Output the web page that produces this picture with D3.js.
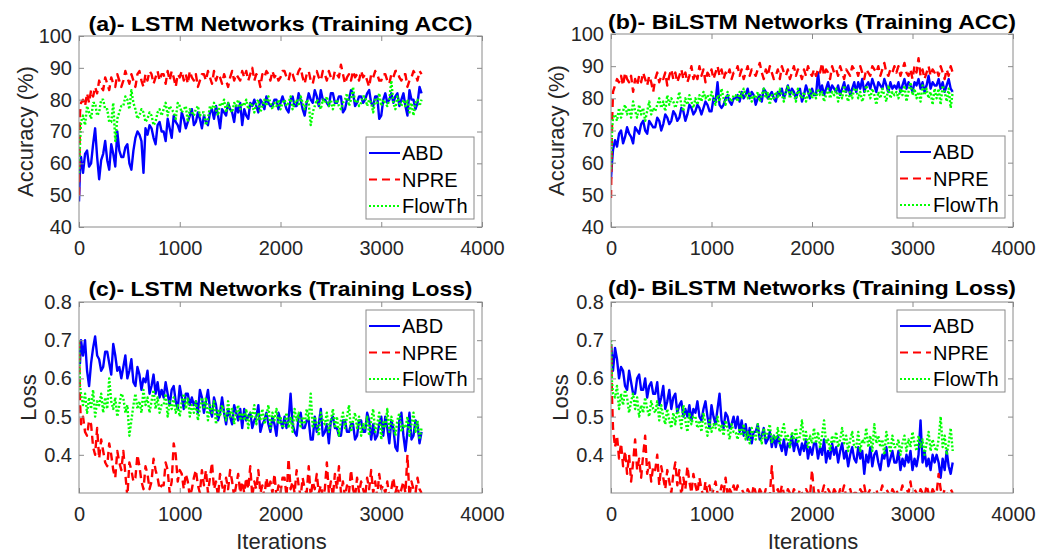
<!DOCTYPE html>
<html>
<head>
<meta charset="utf-8">
<script src="https://cdn.jsdelivr.net/npm/d3@7"></script>
<style>
  body { margin: 0; background: #fff; }
  text { font-family: "Liberation Sans", Arial, sans-serif; }
</style>
</head>
<body>
<script>
// canvas
const W = 1038, H = 554;

// iteration grid (x values)
const iters = [0, 10, 20].concat(d3.range(40, 3401, 20));

// series names
const names = ["ABD", "NPRE", "FlowTh"];

// (a) LSTM training accuracy
const accLstmAbd = [48, 58, 62,
  57, 63, 64, 59, 60, 66, 71, 62, 55, 61, 63, 67, 61, 58, 66, 63, 59, 70, 64, 62,
  62, 65, 66, 60, 58, 64, 68, 70, 69, 67, 57, 71, 69, 72, 71, 68, 66, 72, 73, 70,
  70, 67, 74, 71, 68, 75, 73, 72, 70, 76, 74, 71, 73, 75, 77, 72, 73, 76, 74, 71,
  75, 73, 72, 76, 77, 74, 78, 75, 71, 77, 76, 75, 79, 77, 76, 73, 78, 76, 79, 72,
  77, 75, 74, 79, 78, 80, 78, 76, 80, 79, 77, 81, 79, 78, 78, 80, 80, 77, 79, 81,
  79, 77, 76, 80, 81, 78, 78, 82, 80, 77, 75, 79, 82, 80, 79, 83, 81, 78, 83, 80,
  80, 79, 78, 82, 82, 79, 79, 81, 81, 76, 77, 80, 80, 83, 82, 78, 79, 81, 81, 79,
  80, 82, 83, 79, 78, 81, 81, 74, 75, 80, 82, 79, 80, 82, 79, 81, 82, 78, 80, 82,
  78, 75, 83, 80, 80, 77, 79, 84, 82];
const accLstmNpre = [50, 76, 79,
  80, 78, 82, 79, 83, 81, 84, 82, 86, 84, 83, 87, 85, 83, 87, 85, 84, 88, 86, 84,
  86, 89, 87, 85, 88, 86, 84, 88, 89, 86, 84, 88, 86, 89, 88, 85, 87, 89, 86, 88,
  88, 85, 89, 86, 89, 87, 84, 88, 87, 89, 86, 88, 85, 89, 87, 86, 88, 84, 86, 88,
  88, 86, 89, 87, 85, 89, 86, 88, 87, 85, 88, 86, 84, 87, 89, 86, 88, 87, 86, 89,
  87, 89, 86, 88, 90, 86, 88, 87, 84, 88, 87, 89, 88, 86, 89, 87, 88, 86, 87, 89,
  89, 87, 86, 89, 88, 86, 87, 89, 90, 87, 85, 88, 89, 86, 85, 88, 89, 87, 86, 89,
  88, 86, 89, 87, 86, 89, 88, 87, 91, 88, 85, 87, 88, 86, 89, 87, 88, 86, 89, 87,
  88, 86, 84, 88, 87, 89, 88, 86, 86, 88, 88, 86, 85, 88, 87, 89, 89, 87, 86, 88,
  88, 84, 86, 87, 89, 88, 86, 89, 88];
const accLstmFlow = [57, 66, 73,
  75, 72, 78, 76, 74, 79, 79, 75, 76, 80, 80, 77, 77, 73, 73, 79, 67, 74, 76, 78,
  78, 81, 80, 77, 83, 79, 77, 74, 75, 77, 76, 73, 74, 76, 75, 72, 73, 76, 77, 75,
  77, 79, 75, 78, 77, 76, 74, 79, 78, 76, 77, 78, 73, 77, 76, 75, 77, 78, 75, 76,
  76, 72, 74, 78, 77, 79, 77, 75, 79, 78, 80, 76, 79, 77, 76, 79, 78, 80, 77, 79,
  78, 80, 77, 79, 78, 76, 79, 80, 76, 78, 80, 78, 81, 79, 77, 79, 78, 80, 77, 79,
  80, 78, 79, 81, 77, 79, 80, 78, 81, 79, 77, 80, 79, 72, 76, 78, 80, 79, 77, 80,
  79, 81, 78, 80, 77, 79, 80, 78, 77, 79, 80, 82, 78, 80, 84, 79, 80, 78, 79, 81,
  81, 78, 80, 79, 76, 80, 79, 82, 78, 80, 79, 78, 80, 86, 79, 77, 81, 79, 78, 80,
  78, 80, 76, 79, 75, 79, 80, 78, 80];

// (b) BiLSTM training accuracy
const accBiAbd = [55, 60, 64,
  67, 65, 69, 70, 66, 68, 71, 69, 68, 66, 71, 70, 69, 72, 73, 70, 69, 73, 72, 71,
  71, 74, 73, 70, 72, 75, 74, 72, 73, 76, 75, 73, 74, 77, 76, 73, 75, 78, 77, 75,
  76, 78, 77, 75, 77, 79, 78, 76, 76, 80, 79, 85, 78, 77, 78, 80, 81, 79, 78, 80,
  80, 81, 79, 82, 80, 81, 83, 80, 82, 81, 78, 80, 81, 79, 83, 82, 80, 81, 82, 80,
  79, 82, 81, 83, 80, 82, 84, 81, 83, 82, 80, 82, 83, 79, 81, 84, 82, 80, 83, 81,
  81, 88, 82, 84, 81, 83, 85, 82, 84, 83, 82, 84, 81, 83, 85, 82, 84, 81, 83, 85,
  82, 85, 83, 86, 82, 84, 85, 83, 86, 84, 82, 85, 84, 83, 86, 84, 82, 85, 83, 84,
  83, 85, 82, 84, 86, 83, 85, 84, 82, 85, 84, 86, 83, 85, 82, 84, 87, 83, 85, 84,
  84, 86, 83, 85, 82, 84, 86, 83, 82];
const accBiNpre = [49, 72, 82,
  84, 86, 85, 87, 84, 88, 86, 85, 87, 82, 86, 84, 87, 85, 88, 86, 84, 87, 85, 82,
  86, 88, 85, 87, 86, 88, 84, 87, 89, 86, 88, 85, 87, 89, 86, 88, 85, 87, 90, 86,
  88, 86, 90, 87, 89, 85, 88, 87, 89, 86, 88, 90, 87, 89, 86, 88, 87, 89, 86, 88,
  88, 90, 87, 89, 86, 88, 90, 87, 89, 88, 87, 89, 91, 88, 86, 89, 87, 90, 88, 86,
  87, 89, 86, 90, 88, 87, 89, 86, 88, 90, 87, 89, 88, 86, 89, 87, 90, 88, 87, 89,
  87, 89, 88, 91, 87, 89, 88, 86, 90, 88, 89, 87, 90, 88, 86, 89, 88, 87, 90, 89,
  89, 87, 90, 88, 86, 89, 88, 87, 90, 89, 88, 90, 87, 89, 91, 88, 87, 89, 88, 90,
  88, 90, 87, 89, 91, 88, 87, 89, 86, 90, 88, 92.5, 87, 89, 86, 88, 90, 87, 89, 88,
  89, 87, 90, 88, 86, 89, 87, 90, 88];
const accBiFlow = [58, 70, 74,
  75, 73, 77, 74, 76, 78, 75, 77, 74, 79, 76, 74, 78, 75, 77, 73, 76, 79, 75, 77,
  76, 78, 80, 77, 79, 76, 81, 78, 80, 79, 77, 79, 82, 78, 76, 80, 78, 81, 79, 77,
  80, 78, 81, 79, 82, 80, 81, 79, 82, 80, 78, 81, 79, 83, 80, 78, 82, 80, 79, 81,
  81, 79, 82, 80, 83, 81, 80, 82, 79, 81, 80, 82, 79, 81, 83, 80, 82, 78, 81, 80,
  82, 80, 83, 81, 79, 82, 84, 80, 82, 81, 79, 83, 81, 80, 82, 79, 81, 83, 80, 82,
  80, 83, 81, 82, 79, 81, 83, 80, 82, 81, 83, 79, 82, 80, 84, 81, 79, 82, 80, 83,
  83, 80, 82, 79, 81, 84, 82, 80, 83, 81, 78, 82, 80, 83, 81, 79, 84, 80, 82, 81,
  82, 80, 83, 81, 84, 79, 82, 85, 81, 83, 80, 82, 79, 84, 81, 83, 80, 82, 78, 83,
  80, 83, 78, 84, 82, 79, 83, 77, 82];

// (c) LSTM training loss
const lossLstmAbd = [.69, .64, .70,
  .66, .70, .62, .58, .64, .68, .71, .66, .65, .62, .63, .67, .67, .64, .61, .69, .66, .62, .63, .60,
  .63, .66, .60, .62, .65, .59, .58, .63, .61, .57, .60, .59, .62, .56, .58, .61, .56, .59, .55, .57,
  .55, .59, .56, .53, .57, .58, .54, .52, .58, .55, .52, .56, .56, .53, .55, .53, .54, .51, .57, .55,
  .51, .54, .57, .52, .50, .55, .53, .49, .51, .55, .51, .48, .52, .50, .48, .53, .51, .49, .52, .47,
  .52, .49, .50, .51, .47, .49, .50, .53, .46, .48, .49, .51, .48, .46, .50, .48, .45, .51, .49, .47,
  .50, .47, .49, .56, .48, .46, .45, .50, .51, .47, .47, .49, .49, .44, .44, .50, .46, .48, .52, .45,
  .46, .48, .43, .49, .50, .47, .47, .45, .45, .49, .49, .46, .46, .48, .48, .44, .45, .49, .49, .46,
  .46, .51, .49, .44, .48, .44, .45, .48, .50, .45, .50, .47, .43, .49, .47, .42, .41, .49, .51, .45,
  .41, .46, .51, .44, .45, .49, .48, .43, .46];
const lossLstmNpre = [.70, .54, .48,
  .50, .46, .45, .49, .48, .42, .40, .47, .39, .44, .41, .38, .37, .43, .40, .36, .34, .41, .38, .36,
  .41, .35, .29, .38, .36, .33, .34, .40, .37, .33, .31, .37, .35, .31, .33, .39, .36, .34, .31, .32,
  .32, .38, .36, .30, .33, .43, .40, .33, .36, .35, .31, .35, .33, .29, .31, .34, .36, .32, .30, .36,
  .32, .36, .30, .34, .38, .31, .33, .29, .35, .32, .30, .34, .31, .36, .33, .29, .32, .35, .30, .33,
  .30, .34, .31, .37, .29, .33, .31, .36, .30, .32, .29, .34, .31, .33, .30, .35, .29, .32, .30, .34,
  .34, .29, .39, .31, .33, .30, .36, .32, .29, .34, .31, .30, .37, .29, .33, .31, .35, .30, .32, .29,
  .31, .38, .30, .33, .29, .35, .31, .37, .30, .33, .29, .32, .30, .36, .31, .29, .34, .30, .33, .31,
  .29, .34, .31, .36, .30, .33, .29, .35, .31, .32, .30, .33, .29, .31, .34, .30, .32, .29, .31, .33,
  .30, .40, .29, .33, .31, .30, .34, .31, .30];
const lossLstmFlow = [.70, .58, .56,
  .53, .56, .51, .55, .52, .57, .50, .54, .53, .56, .51, .55, .52, .60, .54, .52, .55, .50, .53, .56,
  .55, .51, .53, .45, .49, .53, .56, .52, .54, .51, .57, .53, .55, .51, .54, .57, .52, .55, .51, .53,
  .53, .56, .50, .54, .52, .55, .51, .53, .50, .54, .56, .52, .55, .50, .53, .51, .54, .49, .52, .55,
  .52, .55, .49, .53, .51, .54, .48, .52, .50, .53, .51, .49, .54, .50, .52, .48, .51, .53, .49, .51,
  .49, .52, .47, .51, .50, .53, .48, .51, .49, .52, .48, .50, .53, .47, .51, .49, .52, .48, .50, .47,
  .48, .51, .47, .50, .46, .52, .49, .51, .47, .50, .48, .52, .49, .56, .47, .50, .48, .45, .51, .49,
  .48, .51, .46, .49, .52, .47, .50, .45, .49, .51, .47, .50, .53, .46, .49, .51, .47, .50, .45, .48,
  .47, .50, .45, .49, .52, .46, .48, .51, .44, .49, .47, .52, .46, .50, .48, .45, .49, .51, .46, .48,
  .47, .50, .45, .48, .51, .46, .49, .44, .47];

// (d) BiLSTM training loss
const lossBiAbd = [.69, .66, .62,
  .68, .65, .60, .63, .62, .58, .57, .62, .59, .56, .56, .60, .61, .57, .57, .60, .55, .58, .59, .56,
  .56, .59, .53, .55, .58, .52, .54, .57, .52, .55, .56, .51, .53, .54, .50, .52, .50, .53, .49, .52,
  .51, .54, .50, .49, .52, .54, .50, .47, .53, .50, .48, .52, .56, .49, .47, .51, .50, .47, .48, .50,
  .47, .50, .46, .49, .45, .48, .44, .47, .43, .46, .46, .48, .44, .45, .47, .43, .44, .46, .42, .45,
  .42, .45, .43, .41, .44, .40, .43, .42, .45, .41, .44, .42, .40, .43, .41, .44, .39, .42, .40, .43,
  .43, .39, .42, .40, .44, .38, .41, .39, .43, .40, .42, .38, .41, .43, .39, .41, .37, .40, .42, .39,
  .38, .42, .39, .41, .35, .40, .38, .42, .37, .40, .41, .38, .36, .40, .39, .42, .37, .39, .41, .38,
  .38, .41, .36, .39, .37, .40, .38, .41, .36, .39, .37, .40, .49, .38, .41, .37, .39, .36, .40, .38,
  .40, .38, .34, .39, .36, .41, .37, .35, .38];
const lossBiNpre = [.69, .55, .47,
  .42, .45, .39, .43, .37, .41, .35, .40, .33, .38, .44, .36, .39, .34, .40, .45, .35, .38, .33, .37,
  .36, .40, .32, .37, .34, .31, .36, .33, .30, .35, .38, .32, .36, .29, .34, .31, .37, .33, .30, .35,
  .32, .30, .34, .31, .29, .33, .30, .32, .29, .31, .33, .30, .29, .32, .30, .34, .29, .31, .30, .32,
  .30, .32, .29, .31, .30, .29, .31, .30, .29, .32, .30, .29, .31, .30, .29, .31, .30, .29, .37, .30,
  .30, .31, .29, .32, .30, .29, .31, .30, .29, .31, .30, .29, .31, .30, .29, .31, .30, .29, .36, .30,
  .30, .31, .29, .30, .32, .29, .31, .30, .29, .31, .30, .29, .31, .30, .32, .29, .30, .31, .29, .30,
  .30, .29, .31, .30, .32, .29, .30, .31, .29, .30, .31, .29, .30, .32, .29, .31, .30, .29, .31, .30,
  .31, .29, .30, .32, .29, .31, .30, .33, .29, .31, .30, .29, .31, .30, .29, .32, .30, .29, .31, .30,
  .30, .35, .31, .29, .31, .30, .29, .31, .30];
const lossBiFlow = [.70, .59, .56,
  .55, .58, .52, .56, .53, .57, .55, .51, .54, .56, .52, .55, .50, .53, .51, .55, .52, .50, .54, .52,
  .51, .54, .49, .53, .50, .48, .52, .49, .47, .51, .48, .52, .50, .47, .53, .49, .46, .51, .48, .50,
  .50, .47, .49, .46, .51, .48, .45, .49, .46, .48, .47, .50, .46, .48, .45, .49, .47, .44, .48, .46,
  .46, .44, .47, .45, .48, .44, .46, .43, .47, .45, .44, .48, .45, .43, .47, .44, .46, .48, .43, .45,
  .44, .47, .43, .46, .48, .44, .45, .42, .46, .44, .47, .43, .45, .49, .44, .46, .42, .45, .43, .47,
  .43, .46, .42, .45, .49, .43, .44, .41, .45, .43, .46, .42, .44, .47, .43, .45, .41, .44, .46, .42,
  .42, .46, .41, .44, .43, .47, .42, .45, .41, .48, .43, .45, .42, .44, .40, .46, .43, .41, .45, .42,
  .42, .44, .40, .43, .45, .41, .44, .42, .46, .43, .41, .45, .42, .44, .40, .43, .46, .41, .44, .42,
  .41, .44, .50, .42, .45, .40, .43, .47, .41];

// tick labels
const xTicks = [0, 1000, 2000, 3000, 4000];
const accTicks = [40, 50, 60, 70, 80, 90, 100];
const lossTicks = [0.4, 0.5, 0.6, 0.7, 0.8];

// line styles
const colors = ["#0000ff", "#ff0000", "#00ff00"];
const dashes = [null, "8,5", "2,2"];

const svg = d3.select("body").append("svg")
  .attr("width", W).attr("height", H);
svg.append("rect").attr("width", W).attr("height", H).attr("fill", "#fff");

const panels = [
  {id: "a", title: "(a)- LSTM Networks (Training ACC)", l: 79, r: 482, t: 36, b: 227,
   yDom: [40, 100], yTicks: accTicks, fmt: d3.format("d"), ylab: "Accuracy (%)", ylx: 25,
   tb: 31, tw: 384, leg: [366, 137], series: [accLstmAbd, accLstmNpre, accLstmFlow]},
  {id: "b", title: "(b)- BiLSTM Networks (Training ACC)", l: 611, r: 1013, t: 34, b: 227,
   yDom: [40, 100], yTicks: accTicks, fmt: d3.format("d"), ylab: "Accuracy (%)", ylx: 556,
   tb: 29, tw: 408, leg: [897, 136], series: [accBiAbd, accBiNpre, accBiFlow]},
  {id: "c", title: "(c)- LSTM Networks (Training Loss)", l: 79, r: 482, t: 302, b: 493,
   yDom: [0.3, 0.8], yTicks: lossTicks, fmt: d3.format(".1f"), ylab: "Loss", ylx: 28,
   tb: 296, tw: 384, leg: [366, 310], xlab: "Iterations", series: [lossLstmAbd, lossLstmNpre, lossLstmFlow]},
  {id: "d", title: "(d)- BiLSTM Networks (Training Loss)", l: 611, r: 1013, t: 302, b: 493,
   yDom: [0.3, 0.8], yTicks: lossTicks, fmt: d3.format(".1f"), ylab: "Loss", ylx: 560,
   tb: 295, tw: 408, leg: [897, 310], xlab: "Iterations", series: [lossBiAbd, lossBiNpre, lossBiFlow]}
];

const axisCol = "#8a8a8a", textCol = "#262626";

panels.forEach(p => {
  const x = d3.scaleLinear().domain([0, 4000]).range([p.l, p.r]);
  const y = d3.scaleLinear().domain(p.yDom).range([p.b, p.t]);
  const g = svg.append("g");

  g.append("clipPath").attr("id", "clip-" + p.id)
    .append("rect").attr("x", p.l).attr("y", p.t)
    .attr("width", p.r - p.l).attr("height", p.b - p.t);

  // lines
  const line = d3.line()
    .defined((d, i) => i < iters.length)
    .x((d, i) => x(iters[i])).y(d => y(d));
  const lg = g.append("g").attr("clip-path", "url(#clip-" + p.id + ")");
  p.series.forEach((s, k) => {
    lg.append("path").datum(s)
      .attr("d", line)
      .attr("fill", "none")
      .attr("stroke", colors[k])
      .attr("stroke-width", 2.4)
      .attr("stroke-linejoin", "round")
      .attr("stroke-dasharray", dashes[k]);
  });

  // axes with inward ticks on all four sides
  const styleAxis = sel => {
    sel.select(".domain").remove();
    sel.attr("font-family", null).attr("font-size", null);
    sel.selectAll(".tick line").attr("stroke", axisCol);
    sel.selectAll(".tick text").attr("fill", textCol).attr("font-size", 20);
  };
  g.append("g").attr("transform", `translate(0,${p.b})`)
    .call(d3.axisBottom(x).tickValues(xTicks).tickFormat(d3.format("d"))
      .tickSizeInner(-5).tickSizeOuter(0).tickPadding(14))
    .call(styleAxis);
  g.append("g").attr("transform", `translate(0,${p.t})`)
    .call(d3.axisTop(x).tickValues(xTicks).tickSizeInner(-5).tickSizeOuter(0).tickFormat(""))
    .call(styleAxis);
  g.append("g").attr("transform", `translate(${p.l},0)`)
    .call(d3.axisLeft(y).tickValues(p.yTicks).tickFormat(p.fmt)
      .tickSizeInner(-5).tickSizeOuter(0).tickPadding(7))
    .call(styleAxis);
  g.append("g").attr("transform", `translate(${p.r},0)`)
    .call(d3.axisRight(y).tickValues(p.yTicks).tickSizeInner(-5).tickSizeOuter(0).tickFormat(""))
    .call(styleAxis);

  g.append("rect").attr("x", p.l).attr("y", p.t)
    .attr("width", p.r - p.l).attr("height", p.b - p.t)
    .attr("fill", "none").attr("stroke", axisCol).attr("stroke-width", 1);

  // title
  g.append("text").attr("x", (p.l + p.r) / 2).attr("y", p.tb)
    .attr("text-anchor", "middle").attr("font-weight", "bold")
    .attr("font-size", 21).attr("fill", "#000")
    .attr("textLength", p.tw).attr("lengthAdjust", "spacingAndGlyphs")
    .text(p.title);

  // y label
  const cy = (p.t + p.b) / 2;
  g.append("text").attr("transform", `translate(${p.ylx},${cy}) rotate(-90)`)
    .attr("text-anchor", "middle").attr("dominant-baseline", "central")
    .attr("font-size", 22).attr("fill", textCol).text(p.ylab);

  // x label
  if (p.xlab) {
    g.append("text").attr("x", (p.l + p.r) / 2 + 1).attr("y", 549)
      .attr("text-anchor", "middle").attr("font-size", 22).attr("fill", textCol)
      .text(p.xlab);
  }

  // legend
  const [lx, ly] = p.leg;
  const lgd = g.append("g");
  lgd.append("rect").attr("x", lx).attr("y", ly).attr("width", 108).attr("height", 82)
    .attr("fill", "#fff").attr("stroke", axisCol).attr("stroke-width", 1);
  names.forEach((n, k) => {
    const yy = ly + 16 + k * 26.5;
    lgd.append("line").attr("x1", lx + 3).attr("x2", lx + 34)
      .attr("y1", yy).attr("y2", yy)
      .attr("stroke", colors[k]).attr("stroke-width", 2)
      .attr("stroke-dasharray", dashes[k]);
    lgd.append("text").attr("x", lx + 36).attr("y", yy)
      .attr("dominant-baseline", "central").attr("font-size", 20)
      .attr("fill", "#000").text(n);
  });
});
</script>
</body>
</html>
